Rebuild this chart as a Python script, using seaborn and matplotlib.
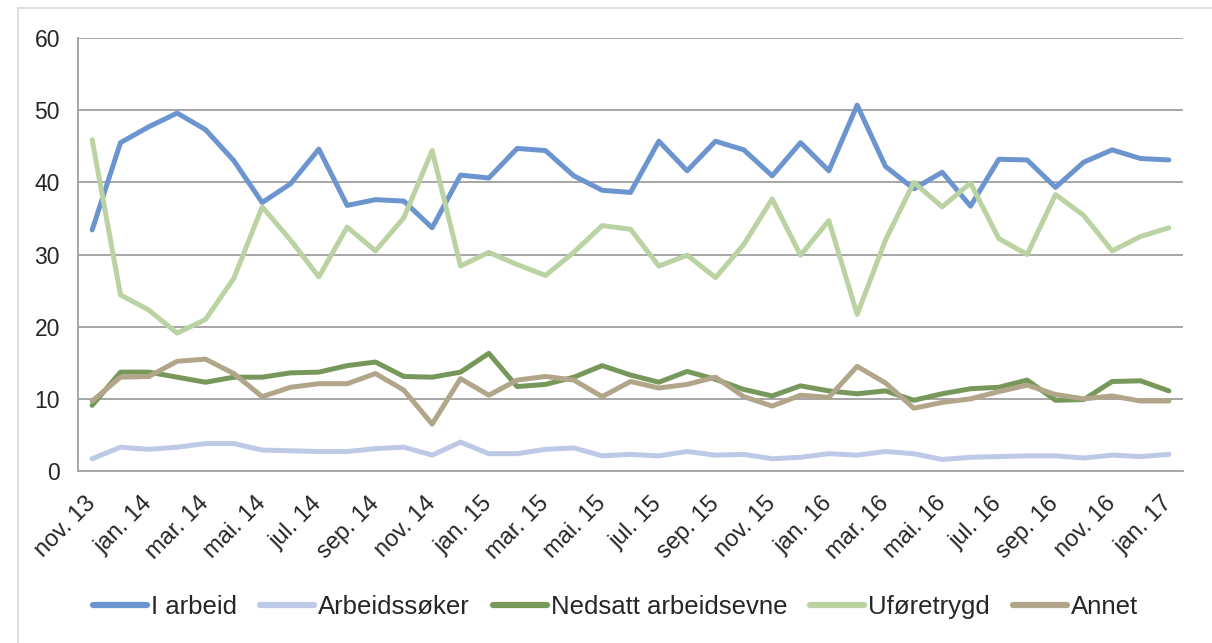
import matplotlib
matplotlib.use("Agg")
import matplotlib.pyplot as plt
import seaborn as sns
import pandas as pd
import numpy as np
from matplotlib.lines import Line2D

months = ["nov. 13", "des. 13",
          "jan. 14", "feb. 14", "mar. 14", "apr. 14", "mai. 14", "jun. 14",
          "jul. 14", "aug. 14", "sep. 14", "okt. 14", "nov. 14", "des. 14",
          "jan. 15", "feb. 15", "mar. 15", "apr. 15", "mai. 15", "jun. 15",
          "jul. 15", "aug. 15", "sep. 15", "okt. 15", "nov. 15", "des. 15",
          "jan. 16", "feb. 16", "mar. 16", "apr. 16", "mai. 16", "jun. 16",
          "jul. 16", "aug. 16", "sep. 16", "okt. 16", "nov. 16", "des. 16",
          "jan. 17"]

i_arbeid = [33.4, 45.5, 47.7, 49.6, 47.3, 43.0, 37.2, 39.8, 44.6, 36.8,
            37.6, 37.4, 33.7, 41.0, 40.6, 44.7, 44.4, 40.9, 38.9, 38.6,
            45.7, 41.6, 45.7, 44.5, 40.9, 45.5, 41.6, 50.7, 42.2, 39.1,
            41.4, 36.7, 43.2, 43.1, 39.3, 42.8, 44.5, 43.3, 43.1]

arbeidssoker = [1.7, 3.3, 3.0, 3.3, 3.8, 3.8, 2.9, 2.8, 2.7, 2.7,
                3.1, 3.3, 2.2, 4.0, 2.4, 2.4, 3.0, 3.2, 2.1, 2.3,
                2.1, 2.7, 2.2, 2.3, 1.7, 1.9, 2.4, 2.2, 2.7, 2.4,
                1.6, 1.9, 2.0, 2.1, 2.1, 1.8, 2.2, 2.0, 2.3]

nedsatt = [9.1, 13.7, 13.7, 13.0, 12.3, 13.0, 13.0, 13.6, 13.7, 14.6,
           15.1, 13.1, 13.0, 13.7, 16.3, 11.7, 12.0, 13.0, 14.6, 13.3,
           12.3, 13.8, 12.7, 11.3, 10.4, 11.8, 11.1, 10.7, 11.1, 9.8,
           10.7, 11.4, 11.6, 12.6, 9.8, 9.9, 12.4, 12.5, 11.1]

uforetrygd = [45.9, 24.4, 22.3, 19.1, 21.0, 26.7, 36.6, 32.0, 26.9, 33.8,
              30.5, 35.1, 44.4, 28.4, 30.3, 28.6, 27.1, 30.3, 34.0, 33.5,
              28.4, 29.9, 26.8, 31.4, 37.7, 29.9, 34.7, 21.7, 32.0, 40.0,
              36.6, 39.9, 32.2, 30.0, 38.3, 35.4, 30.5, 32.5, 33.7]

annet = [9.7, 13.0, 13.1, 15.2, 15.5, 13.5, 10.3, 11.6, 12.1, 12.1,
         13.5, 11.2, 6.5, 12.8, 10.5, 12.6, 13.1, 12.6, 10.3, 12.4,
         11.5, 12.0, 13.0, 10.3, 9.0, 10.5, 10.2, 14.5, 12.2, 8.7,
         9.5, 10.0, 11.0, 11.9, 10.6, 10.0, 10.4, 9.7, 9.7]

series_names = ["I arbeid", "Arbeidssøker", "Nedsatt arbeidsevne", "Uføretrygd", "Annet"]
series_values = [i_arbeid, arbeidssoker, nedsatt, uforetrygd, annet]
colors = ["#6C95D0", "#BEC9E8", "#77985A", "#BBD3A2", "#B2A68A"]

y_ticks = [0, 10, 20, 30, 40, 50, 60]

rows = []
for name, vals in zip(series_names, series_values):
    for idx, v in enumerate(vals):
        rows.append({"pos": idx, "month": months[idx], "serie": name, "verdi": v})
df = pd.DataFrame(rows)

sns.set_theme(style="white")
plt.rcParams['font.family'] = ['Liberation Sans', 'DejaVu Sans']

fig = plt.figure(figsize=(12.12, 6.43), dpi=100)
ax = fig.add_axes([78/1212, 1-471/643, (1183-78)/1212, (471-38)/643])

sns.lineplot(data=df, x="pos", y="verdi", hue="serie", hue_order=series_names,
             palette=colors, linewidth=3.6, ax=ax, legend=False, sort=False,
             solid_capstyle='round', solid_joinstyle='round')

n = len(months)
ax.set_xlim(-0.5, n - 0.5)
ax.set_ylim(0, 60)
ax.set_yticks(y_ticks)
ax.set_yticklabels([str(t) for t in y_ticks], fontsize=16.5)
ax.yaxis.grid(True, color="#A6A6A6", linewidth=1.4)
ax.set_axisbelow(True)
ax.xaxis.grid(False)

ax.set_xticks(list(range(0, n, 2)))
ax.set_xticklabels([months[i] for i in range(0, n, 2)], rotation=45, ha='right',
                   va='center', rotation_mode='anchor', fontsize=17)
ax.tick_params(axis='x', length=0, pad=21)
ax.set_xticks(list(np.arange(-0.5, n - 0.5, 2)), minor=True)
ax.tick_params(axis='x', which='minor', length=7, width=1.4, color="#A6A6A6", direction='out')
ax.tick_params(axis='y', length=7, width=1.4, color="#A6A6A6", direction='out', pad=6)
ax.set_xlabel("")
ax.set_ylabel("")

for side in ["top", "right"]:
    ax.spines[side].set_visible(False)
for side in ["left", "bottom"]:
    ax.spines[side].set_color("#A6A6A6")
    ax.spines[side].set_linewidth(1.4)

handles = [Line2D([0], [0], color=c, linewidth=4.5, solid_capstyle='round') for c in colors]
fig.legend(handles, series_names, loc='center', bbox_to_anchor=(0.508, 1 - 607/643),
           ncol=5, frameon=False, fontsize=18.5, handlelength=2.1, handletextpad=0.15,
           columnspacing=0.9)

# outer chart frame
fig.add_artist(Line2D([18/1212, 18/1212], [0, 1 - 8/643], transform=fig.transFigure,
                      color="#D9D9D9", linewidth=1.2))
fig.add_artist(Line2D([18/1212, 1], [1 - 8/643, 1 - 8/643], transform=fig.transFigure,
                      color="#D9D9D9", linewidth=1.2))

fig.savefig("out.png", dpi=100)
